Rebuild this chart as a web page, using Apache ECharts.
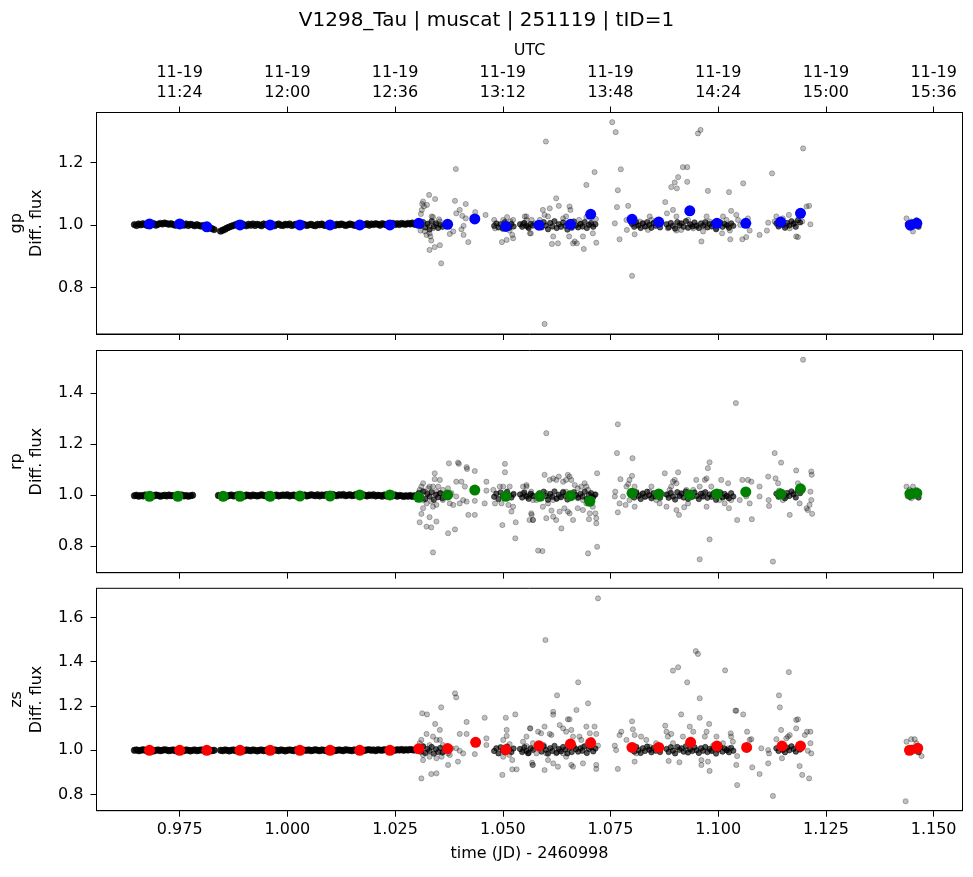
<!DOCTYPE html>
<html><head><meta charset="utf-8">
<script src="https://cdn.jsdelivr.net/npm/echarts@6/dist/echarts.min.js"></script>
<style>html,body{margin:0;padding:0;background:#fff}#chart{width:973px;height:877px}</style>
</head><body><div id="chart"></div>
<script>
const chartTitle = 'V1298_Tau | muscat | 251119 | tID=1';
const xAxisName = 'time (JD) - 2460998';
const topAxisName = 'UTC';
const bandNames = ['gp', 'rp', 'zs'];
const xTickValues = [0.975, 1.000, 1.025, 1.050, 1.075, 1.100, 1.125, 1.150];
const xTickLabels = ['0.975', '1.000', '1.025', '1.050', '1.075', '1.100', '1.125', '1.150'];
const utcTickLabels = ['11-19\n11:24', '11-19\n12:00', '11-19\n12:36', '11-19\n13:12', '11-19\n13:48', '11-19\n14:24', '11-19\n15:00', '11-19\n15:36'];
const gpTickValues = [0.8, 1.0, 1.2];
const rpTickValues = [0.8, 1.0, 1.2, 1.4];
const zsTickValues = [0.8, 1.0, 1.2, 1.4, 1.6];
const gpTickLabels = ['0.8', '1.0', '1.2'];
const rpTickLabels = ['0.8', '1.0', '1.2', '1.4'];
const zsTickLabels = ['0.8', '1.0', '1.2', '1.4', '1.6'];

// binned points
const gpBinTime = [0.9680,0.9750,0.9813,0.9890,0.9960,1.0029,1.0099,1.0168,1.0238,1.0305,1.0372,1.0435,1.0507,1.0584,1.0657,1.0704,1.0800,1.0862,1.0934,1.0997,1.1064,1.1145,1.1191,1.1446,1.1461];
const gpBinFlux = [1.003,1.003,0.994,1.000,1.000,1.000,1.000,1.000,1.000,1.005,1.002,1.019,0.995,0.999,1.002,1.034,1.018,1.009,1.045,1.005,1.005,1.009,1.037,0.999,1.005];
const rpBinTime = [0.9680,0.9746,0.9851,0.9890,0.9960,1.0029,1.0099,1.0168,1.0238,1.0305,1.0372,1.0435,1.0507,1.0586,1.0657,1.0702,1.0800,1.0862,1.0934,1.0997,1.1064,1.1145,1.1191,1.1445,1.1461];
const rpBinFlux = [0.996,0.996,0.996,0.996,0.996,0.997,0.997,1.001,1.001,0.992,1.001,1.020,0.996,0.996,0.998,0.976,1.008,1.005,1.001,1.005,1.013,1.005,1.025,1.005,1.008];
const zsBinTime = [0.9680,0.9750,0.9813,0.9890,0.9960,1.0029,1.0099,1.0168,1.0238,1.0305,1.0372,1.0437,1.0507,1.0584,1.0657,1.0704,1.0800,1.0862,1.0936,1.0997,1.1066,1.1148,1.1191,1.1444,1.1463];
const zsBinFlux = [1.000,1.000,1.000,1.000,1.000,1.000,1.000,1.000,1.000,1.007,1.008,1.036,1.003,1.020,1.028,1.034,1.013,1.013,1.036,1.019,1.013,1.019,1.019,1.000,1.009];

// quiet early part of the night (dense band)
const gpBandTime = [0.9645,0.9650,0.9655,0.9660,0.9665,0.9670,0.9675,0.9680,0.9685,0.9690,0.9695,0.9700,0.9705,0.9710,0.9715,0.9720,0.9725,0.9730,0.9735,0.9740,0.9745,0.9750,0.9755,0.9760,0.9765,0.9770,0.9775,0.9780,0.9785,0.9790,0.9795,0.9800,0.9805,0.9810,0.9815,0.9820,0.9825,0.9830,
0.9845,0.9850,0.9855,0.9860,0.9865,0.9870,0.9875,0.9880,0.9885,0.9890,0.9895,0.9900,0.9905,0.9910,0.9915,0.9920,0.9925,0.9930,0.9935,0.9940,0.9945,0.9950,0.9955,0.9960,0.9965,0.9970,0.9975,0.9980,0.9985,0.9990,0.9995,1.0000,1.0005,1.0010,1.0015,1.0020,1.0025,1.0030,1.0035,1.0040,1.0045,1.0050,1.0055,1.0060,1.0065,1.0070,1.0075,1.0080,1.0085,1.0090,1.0095,1.0100,1.0105,1.0110,1.0115,1.0120,1.0125,1.0130,1.0135,1.0140,1.0145,1.0150,1.0155,1.0160,1.0165,1.0170,1.0175,1.0180,1.0185,1.0190,1.0195,1.0200,1.0205,1.0210,1.0215,1.0220,1.0225,1.0230,1.0235,1.0240,1.0245,1.0250,1.0255,1.0260,1.0265,1.0270,1.0275,1.0280,1.0285,1.0290,1.0295,1.0300];
const gpBandFlux = [1.001,0.998,1.003,1.000,1.004,1.001,0.998,1.003,1.001,1.004,0.999,1.002,1.005,1.003,1.006,1.004,1.002,1.004,1.001,0.999,1.003,1.004,1.001,0.999,1.003,0.998,1.002,1.000,0.997,1.001,0.998,0.996,0.998,0.995,0.993,0.991,0.988,0.985,
0.980,0.983,0.986,0.990,0.993,0.996,0.998,
1.001,1.003,0.998,1.003,1.000,0.997,1.002,0.999,1.003,0.998,1.002,1.000,0.997,1.003,1.001,0.998,1.000,1.002,0.997,1.001,1.003,0.999,0.998,1.002,1.000,1.003,0.998,1.000,1.002,0.997,1.001,1.003,1.001,0.998,1.000,1.002,0.999,0.997,1.002,1.000,1.003,0.999,0.998,1.002,1.003,1.000,0.998,1.002,1.000,1.003,1.001,0.998,1.000,1.003,1.001,0.999,0.998,1.002,1.003,1.000,1.001,1.004,0.999,1.003,1.001,1.004,1.002,0.999,1.004,1.002,1.000,1.004,1.002,1.005,1.001,1.004,1.001,1.005,1.003,1.002,1.005,1.003,1.006,1.002,1.004];
const rpBandTime = [0.9645,0.9650,0.9655,0.9660,0.9665,0.9670,0.9675,0.9680,0.9685,0.9690,0.9695,0.9700,0.9705,0.9710,0.9715,0.9720,0.9725,0.9730,0.9735,0.9740,0.9745,0.9750,0.9755,0.9760,0.9765,0.9770,0.9775,0.9780,
0.9840,0.9845,0.9850,0.9855,0.9860,0.9865,0.9870,0.9875,0.9880,0.9885,0.9890,0.9895,0.9900,0.9905,0.9910,0.9915,0.9920,0.9925,0.9930,0.9935,0.9940,0.9945,0.9950,0.9955,0.9960,0.9965,0.9970,0.9975,0.9980,0.9985,0.9990,0.9995,1.0000,1.0005,1.0010,1.0015,1.0020,1.0025,1.0030,1.0035,1.0040,1.0045,1.0050,1.0055,1.0060,1.0065,1.0070,1.0075,1.0080,1.0085,1.0090,1.0095,1.0100,1.0105,1.0110,1.0115,1.0120,1.0125,1.0130,1.0135,1.0140,1.0145,1.0150,1.0155,1.0160,1.0165,1.0170,1.0175,1.0180,1.0185,1.0190,1.0195,1.0200,1.0205,1.0210,1.0215,1.0220,1.0225,1.0230,1.0235,1.0240,1.0245,1.0250,1.0255,1.0260,1.0265,1.0270,1.0275,1.0280,1.0285,1.0290,1.0295,1.0300];
const rpBandFlux = [0.998,1.000,0.996,0.999,0.997,1.001,0.998,0.996,1.000,0.997,1.001,0.999,0.996,0.998,1.000,0.997,1.001,0.998,0.999,0.996,0.998,1.000,1.001,0.997,0.999,0.996,0.998,1.000,
0.999,0.997,1.001,0.999,0.996,0.999,1.001,0.997,0.999,1.002,0.997,0.999,0.996,1.001,0.999,0.997,1.001,0.999,0.997,0.999,1.002,0.999,0.997,1.001,0.999,0.996,0.999,1.001,0.997,0.999,1.001,0.999,1.002,0.997,0.999,1.001,0.997,0.999,1.002,0.999,1.001,0.997,0.999,1.002,1.000,0.998,1.002,0.997,1.001,0.999,1.002,1.000,0.998,1.003,1.000,0.998,1.002,1.000,1.003,0.998,1.000,1.002,0.998,1.000,1.003,1.000,0.998,1.002,1.000,0.997,1.001,0.999,1.002,0.997,1.000,0.999,0.996,1.001,0.997,0.999,0.996,0.998,1.001,0.996,0.999,0.998,0.995,0.998,0.996,0.999,0.995,0.998,0.996];
const zsBandTime = [0.9645,0.9650,0.9655,0.9660,0.9665,0.9670,0.9675,0.9680,0.9685,0.9690,0.9695,0.9700,0.9705,0.9710,0.9715,0.9720,0.9725,0.9730,0.9735,0.9740,0.9745,0.9750,0.9755,0.9760,0.9765,0.9770,0.9775,0.9780,0.9785,0.9790,0.9795,0.9800,0.9805,0.9810,0.9815,0.9820,0.9825,0.9830,
0.9845,0.9850,0.9855,0.9860,0.9865,0.9870,0.9875,0.9880,0.9885,0.9890,0.9895,0.9900,0.9905,0.9910,0.9915,0.9920,0.9925,0.9930,0.9935,0.9940,0.9945,0.9950,0.9955,0.9960,0.9965,0.9970,0.9975,0.9980,0.9985,0.9990,0.9995,1.0000,1.0005,1.0010,1.0015,1.0020,1.0025,1.0030,1.0035,1.0040,1.0045,1.0050,1.0055,1.0060,1.0065,1.0070,1.0075,1.0080,1.0085,1.0090,1.0095,1.0100,1.0105,1.0110,1.0115,1.0120,1.0125,1.0130,1.0135,1.0140,1.0145,1.0150,1.0155,1.0160,1.0165,1.0170,1.0175,1.0180,1.0185,1.0190,1.0195,1.0200,1.0205,1.0210,1.0215,1.0220,1.0225,1.0230,1.0235,1.0240,1.0245,1.0250,1.0255,1.0260,1.0265,1.0270,1.0275,1.0280,1.0285,1.0290,1.0295,1.0300];
const zsBandFlux = [1.000,1.002,0.998,1.000,1.003,1.000,0.998,1.002,1.000,0.997,1.000,1.002,0.998,1.000,1.003,1.001,0.998,1.000,1.002,0.998,1.000,1.003,1.000,0.998,1.002,1.000,0.997,1.000,1.002,0.998,1.000,1.002,1.000,0.998,1.002,1.000,0.998,1.000,
1.000,0.998,1.002,1.000,0.997,1.000,1.002,0.998,1.000,1.003,1.000,0.998,1.002,1.000,0.998,1.002,1.000,0.997,1.000,1.002,0.998,1.000,1.003,1.000,0.998,1.002,1.000,0.998,1.002,1.000,0.997,1.000,1.002,1.000,0.998,1.003,1.000,0.998,1.002,1.000,1.000,1.002,0.998,1.000,1.003,1.000,0.998,1.002,1.000,0.998,1.002,1.000,1.003,0.998,1.000,1.002,1.000,0.998,1.003,1.001,1.000,0.998,1.002,1.000,1.003,1.001,0.998,1.000,1.002,1.003,1.000,1.002,0.998,1.003,1.001,1.000,1.003,1.001,1.000,1.004,1.001,1.000,1.003,1.001,1.004,1.000,1.003,1.001,1.004,1.002,1.001,1.004];

// dense cores of the later, noisier part (simultaneous exposures in all bands)
const coreTime = [1.0305,1.0310,1.0315,1.0320,1.0325,1.0330,1.0335,1.0340,1.0345,1.0350,1.0355,1.0360,
1.0480,1.0485,1.0490,1.0495,1.0500,1.0505,1.0510,1.0515,1.0520,1.0525,
1.0540,1.0545,1.0550,1.0555,1.0560,1.0565,1.0570,
1.0585,1.0590,1.0595,1.0600,1.0605,1.0610,1.0615,1.0620,1.0625,1.0630,1.0635,1.0640,1.0645,1.0650,1.0655,1.0660,1.0665,1.0670,1.0675,1.0680,1.0685,1.0690,1.0695,1.0700,1.0705,1.0710,1.0715,
1.0800,1.0805,1.0810,1.0815,1.0820,1.0825,1.0830,1.0835,1.0840,1.0845,1.0850,1.0855,1.0860,1.0865,
1.0880,1.0885,1.0890,1.0895,1.0900,1.0905,1.0910,1.0915,1.0920,1.0925,1.0930,1.0935,1.0940,1.0945,1.0950,1.0955,1.0960,1.0965,1.0970,1.0975,1.0980,1.0985,1.0990,1.0995,1.1000,1.1005,1.1010,1.1015,1.1020,1.1025,1.1030,1.1035,
1.1135,1.1140,1.1145,1.1150,1.1155,1.1160,1.1165,1.1170,1.1175,1.1180,1.1185,1.1190,
1.1440,1.1445,1.1450,1.1455,1.1460,1.1465];
const gpCoreFlux = [1.006,0.997,1.009,0.992,1.003,0.985,1.012,0.995,1.005,0.990,1.000,0.994,
0.997,1.005,0.992,1.002,0.988,1.009,0.998,0.991,1.003,0.995,
1.002,0.994,1.006,0.997,0.990,1.003,0.998,
1.005,0.992,1.009,0.998,0.986,1.006,0.995,1.012,0.990,1.002,0.994,1.008,0.997,0.985,1.005,0.991,1.011,0.998,0.992,1.003,0.995,1.009,0.990,1.000,1.006,0.994,1.002,
1.003,0.994,1.008,0.998,0.990,1.005,0.995,1.009,1.000,0.991,1.006,0.997,1.003,0.992,
1.002,0.992,1.006,0.997,0.988,1.009,0.998,1.005,0.994,1.012,0.991,1.002,0.995,1.008,0.998,0.990,1.005,0.997,1.009,0.992,1.003,0.995,1.006,0.986,1.000,1.008,0.994,1.003,0.998,0.991,1.005,0.997,
1.005,0.995,1.009,1.000,0.991,1.006,0.998,1.012,1.003,0.994,1.015,1.008,
1.003,0.995,1.008,0.998,1.005,0.994];
const rpCoreFlux = [1.009,0.991,1.015,0.985,1.005,0.995,1.012,0.982,1.002,0.992,1.008,0.988,
0.994,1.006,0.985,1.011,0.997,0.990,1.014,1.000,0.991,1.005,
1.003,0.991,1.011,0.995,0.986,1.006,0.998,
1.008,0.990,1.014,0.997,0.982,1.005,0.994,1.015,0.986,1.002,0.992,1.011,0.998,0.983,1.006,0.990,1.012,1.000,0.991,1.005,0.995,1.014,0.985,1.002,1.008,0.992,1.003,
1.005,0.991,1.012,0.997,0.985,1.006,0.994,1.014,1.000,0.988,1.008,0.995,1.003,0.990,
1.003,0.990,1.009,0.995,0.983,1.012,0.998,1.006,0.991,1.015,0.986,1.002,0.994,1.011,0.997,0.985,1.006,0.995,1.012,0.990,1.003,0.994,1.009,0.982,1.000,1.011,0.991,1.005,0.997,0.988,1.008,0.995,
1.006,0.994,1.014,1.000,0.988,1.009,0.997,1.015,1.003,0.991,1.018,1.008,
1.009,0.994,1.015,1.000,1.006,0.991];
const zsCoreFlux = [1.012,0.994,1.018,0.988,1.006,0.997,1.015,0.985,1.005,0.992,1.011,0.990,
0.997,1.009,0.986,1.014,1.000,0.991,1.017,1.003,0.992,1.008,
1.006,0.992,1.014,0.997,0.988,1.009,1.002,
1.012,0.994,1.018,1.002,0.985,1.009,0.997,1.020,0.990,1.006,0.995,1.015,1.003,0.986,1.011,0.992,1.017,1.005,0.994,1.009,0.998,1.018,0.988,1.006,1.014,0.995,1.008,
1.008,0.994,1.015,1.000,0.988,1.009,0.997,1.017,1.003,0.991,1.011,0.998,1.006,0.992,
1.006,0.992,1.014,0.998,0.986,1.015,1.002,1.009,0.994,1.018,0.990,1.005,0.997,1.014,1.000,0.988,1.009,0.998,1.015,0.992,1.006,0.997,1.012,0.985,1.003,1.014,0.994,1.008,1.000,0.991,1.011,0.998,
1.009,0.997,1.017,1.003,0.991,1.012,1.000,1.018,1.006,0.994,1.015,1.005,
1.006,0.994,1.012,0.998,1.005,0.991];

// scattered individual exposures [time, flux]
const gpScatter = [[1.0315,1.075],[1.0313,1.067],[1.0317,1.059],[1.0312,1.048],[1.0310,1.035],[1.0329,1.096],[1.0343,1.083],[1.0324,1.064],[1.0338,1.025],[1.0335,1.027],[1.0352,1.018],[1.0354,1.011],[1.0346,1.000],[1.0328,1.005],[1.0330,0.995],[1.0309,0.982],[1.0319,0.979],[1.0323,0.968],[1.0330,0.973],[1.0332,0.963],[1.0334,0.950],[1.0338,0.989],[1.0342,0.929],[1.0354,0.935],[1.0330,0.920],[1.0357,0.877],[1.0391,1.179],[1.0389,1.077],[1.0400,1.048],[1.0414,1.067],[1.0406,1.029],[1.0392,1.037],[1.0409,0.997],[1.0404,0.986],[1.0385,0.979],[1.0377,0.971],[1.0409,0.968],[1.0420,0.945],[1.0436,1.041],[1.0460,1.032],[1.0414,1.021],[1.0480,1.016],[1.0482,0.989],[1.0501,1.016],[1.0510,1.025],[1.0518,1.011],[1.0524,1.016],[1.0516,0.982],[1.0524,0.957],[1.0509,0.952],[1.0498,0.945],[1.0522,0.968],[1.0555,1.027],[1.0547,1.005],[1.0559,0.995],[1.0563,0.973],[1.0567,1.016],[1.0583,0.998],
[1.0551,1.027],[1.0555,1.016],[1.0547,1.000],[1.0558,0.993],[1.0565,0.973],[1.0574,1.005],[1.0586,1.016],[1.0593,1.048],[1.0597,1.032],[1.0605,1.027],[1.0609,1.053],[1.0600,1.267],[1.0597,0.683],[1.0617,0.963],[1.0614,0.939],[1.0628,0.941],[1.0624,1.085],[1.0630,1.061],[1.0640,1.021],[1.0647,1.027],[1.0655,1.059],[1.0657,1.048],[1.0654,0.963],[1.0663,0.941],[1.0667,0.947],[1.0672,0.941],[1.0677,1.016],[1.0686,0.963],[1.0688,0.923],[1.0682,1.003],[1.0694,1.025],[1.0694,1.128],[1.0706,1.000],[1.0709,0.973],[1.0713,1.169],[1.0716,1.019],[1.0717,0.943],
[1.0754,1.329],[1.0762,1.297],[1.0774,1.178],[1.0767,1.111],[1.0765,1.057],[1.0760,1.005],[1.0771,0.954],[1.0791,1.061],[1.0787,1.016],[1.0788,0.984],[1.0806,0.970],[1.0800,0.837],[1.0810,1.000],[1.0818,1.011],[1.0825,1.005],[1.0833,0.995],[1.0841,1.027],[1.0845,1.016],[1.0849,1.005],[1.0837,0.984],[1.0856,1.011],[1.0864,1.003],[1.0877,1.073],[1.0881,1.037],[1.0891,1.121],[1.0899,1.136],[1.0904,1.117],[1.0907,1.153],[1.0895,1.048],[1.0903,1.027],[1.0911,1.005],[1.0883,0.989],[1.0903,0.982],[1.0914,0.984],[1.0918,1.185],[1.0928,1.185],[1.0928,1.138],[1.0930,1.016],[1.0938,1.000],[1.0942,0.989],[1.0949,0.995],[1.0953,1.293],[1.0959,1.304],[1.0961,0.947],[1.0976,1.109],[1.0973,1.027],[1.0980,1.011],[1.0969,1.000],[1.0965,0.979],[1.0988,1.000],[1.0996,0.989],[1.1003,1.005],[1.1009,0.973],[1.1011,1.027],[1.1019,1.016],[1.1023,1.000],[1.1025,1.105],[1.1027,0.982],[1.1028,0.954],[1.1030,1.045],[1.1042,1.032],[1.1046,1.016],[1.1051,1.000],[1.1058,1.133],[1.1056,0.954],[1.1065,0.961],[1.1073,0.982],[1.1069,1.021],[1.1096,0.968],[1.1113,0.982],[1.1116,1.007],[1.1125,1.165],[1.1135,1.027],[1.1131,1.011],[1.1139,1.000],[1.1143,1.016],[1.1150,1.021],[1.1158,0.997],[1.1164,1.032],[1.1166,0.989],[1.1174,1.005],[1.1178,1.007],[1.1181,0.963],[1.1185,0.961],[1.1195,1.011],[1.1197,1.245],[1.1205,1.059],[1.1211,1.061],[1.1214,1.002],[1.1437,1.021],[1.1452,0.979],[1.1448,1.011],[1.1460,1.016]];

const rpScatter = [[1.0315,1.047],[1.0311,1.034],[1.0307,1.021],[1.0319,1.014],[1.0327,1.027],[1.0330,1.034],[1.0338,1.034],[1.0350,1.034],[1.0346,1.014],[1.0354,1.008],[1.0361,1.021],[1.0342,1.086],[1.0342,1.063],[1.0354,1.060],[1.0375,1.125],[1.0396,1.128],[1.0398,1.123],[1.0416,1.110],[1.0417,1.103],[1.0435,1.095],[1.0392,1.053],[1.0404,1.053],[1.0412,1.034],[1.0462,1.053],[1.0462,1.018],[1.0373,1.027],[1.0381,1.008],[1.0392,0.995],[1.0408,0.981],[1.0315,0.981],[1.0323,0.968],[1.0334,0.975],[1.0338,0.955],[1.0346,0.962],[1.0361,0.981],[1.0377,0.968],[1.0385,0.962],[1.0400,0.968],[1.0315,0.949],[1.0311,0.927],[1.0307,0.894],[1.0330,0.914],[1.0346,0.897],[1.0323,0.877],[1.0334,0.874],[1.0373,0.851],[1.0389,0.866],[1.0338,0.776],[1.0420,0.923],[1.0435,0.923],[1.0416,0.975],[1.0458,0.968],[1.0435,0.978],[1.0478,1.021],[1.0493,1.034],[1.0505,1.123],[1.0505,1.090],[1.0501,1.034],[1.0516,1.034],[1.0509,1.008],[1.0524,1.001],[1.0482,0.968],[1.0497,0.968],[1.0513,0.962],[1.0524,0.955],[1.0520,0.936],[1.0499,0.883],[1.0530,0.894],[1.0529,0.831],[1.0547,1.008],[1.0555,1.034],[1.0563,1.001],[1.0570,0.995],[1.0578,0.981],[1.0567,0.923],[1.0570,0.903],[1.0582,0.783],[1.0586,0.995],
[1.0547,1.034],[1.0555,1.040],[1.0551,1.001],[1.0558,0.995],[1.0566,1.014],[1.0570,0.981],[1.0566,0.929],[1.0570,0.903],[1.0562,0.903],[1.0597,1.080],[1.0601,1.243],[1.0609,1.060],[1.0617,1.066],[1.0624,1.060],[1.0630,1.073],[1.0640,1.053],[1.0647,1.060],[1.0651,1.080],[1.0655,1.073],[1.0659,1.060],[1.0667,1.040],[1.0674,1.027],[1.0682,1.034],[1.0690,1.047],[1.0694,1.034],[1.0698,1.021],[1.0601,1.008],[1.0609,0.995],[1.0617,0.981],[1.0624,0.988],[1.0632,0.995],[1.0640,1.014],[1.0647,1.014],[1.0663,0.995],[1.0674,0.988],[1.0686,0.981],[1.0698,0.975],[1.0706,0.995],[1.0713,1.001],[1.0593,0.955],[1.0605,0.968],[1.0613,0.940],[1.0617,0.916],[1.0624,0.903],[1.0601,0.910],[1.0632,0.936],[1.0643,0.949],[1.0651,0.936],[1.0655,0.929],[1.0663,0.903],[1.0674,0.949],[1.0686,0.942],[1.0694,0.968],[1.0702,0.929],[1.0709,0.955],[1.0715,0.929],[1.0717,0.910],[1.0717,0.890],[1.0700,0.906],[1.0636,0.870],[1.0592,0.781],[1.0698,0.772],[1.0719,0.798],[1.0719,1.086],
[1.0767,1.278],[1.0765,1.165],[1.0773,1.063],[1.0767,0.933],[1.0761,1.014],[1.0760,0.995],[1.0771,0.968],[1.0779,0.995],[1.0787,1.034],[1.0791,1.044],[1.0794,1.060],[1.0800,1.076],[1.0801,1.145],[1.0806,1.034],[1.0806,0.955],[1.0794,0.981],[1.0785,0.962],[1.0810,1.008],[1.0818,1.001],[1.0825,1.008],[1.0833,0.995],[1.0841,1.014],[1.0845,1.034],[1.0849,0.995],[1.0856,0.981],[1.0864,0.968],[1.0876,1.086],[1.0880,0.955],[1.0883,1.001],[1.0887,1.021],[1.0891,1.034],[1.0895,1.053],[1.0899,1.060],[1.0903,1.047],[1.0907,1.090],[1.0911,0.995],[1.0914,1.008],[1.0903,0.942],[1.0909,0.923],[1.0921,0.953],[1.0926,1.021],[1.0930,0.968],[1.0938,1.008],[1.0942,1.021],[1.0949,1.060],[1.0957,1.034],[1.0961,0.995],[1.0965,1.008],[1.0969,1.060],[1.0973,1.066],[1.0976,1.106],[1.0980,1.129],[1.0980,0.827],[1.0957,0.749],[1.0973,0.955],[1.0984,1.034],[1.0988,1.001],[1.0996,0.995],[1.1003,0.981],[1.1007,1.060],[1.1011,0.995],[1.1015,0.968],[1.1019,0.995],[1.1023,1.047],[1.1025,0.949],[1.1030,0.981],[1.1041,1.361],[1.1044,0.903],[1.1050,0.981],[1.1056,1.060],[1.1065,0.995],[1.1069,1.060],[1.1073,0.968],[1.1078,0.906],[1.1077,1.053],[1.1096,1.034],[1.1096,0.995],[1.1116,1.073],[1.1117,0.981],[1.1118,0.958],[1.1127,0.740],[1.1131,1.165],[1.1133,1.066],[1.1139,1.047],[1.1141,1.018],[1.1146,1.128],[1.1150,0.981],[1.1154,1.001],[1.1158,0.995],[1.1166,0.923],[1.1174,1.008],[1.1181,1.097],[1.1185,1.047],[1.1189,0.968],[1.1197,1.531],[1.1205,0.949],[1.1208,0.942],[1.1212,0.962],[1.1216,0.981],[1.1214,1.014],[1.1216,1.093],[1.1217,1.080],[1.1218,0.927],
[1.1437,1.034],[1.1440,0.995],[1.1444,1.021],[1.1452,1.034],[1.1456,0.995],[1.1460,1.021],[1.1464,1.001],[1.1448,0.988]];

const zsScatter = [[1.0313,1.167],[1.0324,1.162],[1.0357,1.194],[1.0343,1.119],[1.0354,1.092],[1.0389,1.257],[1.0392,1.239],[1.0416,1.128],[1.0458,1.147],[1.0400,1.074],[1.0416,1.074],[1.0462,1.054],[1.0462,1.024],[1.0435,0.983],[1.0361,0.994],[1.0377,0.979],[1.0338,1.062],[1.0323,1.074],[1.0311,1.047],[1.0307,1.032],[1.0315,1.016],[1.0330,1.024],[1.0346,1.047],[1.0354,1.047],[1.0361,1.024],[1.0373,0.986],[1.0381,1.009],[1.0392,1.009],[1.0400,0.998],[1.0408,0.986],[1.0315,0.979],[1.0315,0.956],[1.0330,0.971],[1.0346,0.964],[1.0358,0.971],[1.0373,0.934],[1.0396,0.949],[1.0311,0.873],[1.0334,0.893],[1.0346,0.896],[1.0507,1.147],[1.0509,1.092],[1.0509,1.065],[1.0501,1.047],[1.0516,1.028],[1.0529,1.162],[1.0501,0.971],[1.0515,0.979],[1.0522,0.956],[1.0499,0.889],[1.0522,0.914],[1.0532,0.914],[1.0563,1.099],[1.0582,1.084],[1.0570,1.032],[1.0559,0.986],[1.0569,0.934],[1.0547,1.039],[1.0578,0.986],[1.0555,1.019],
[1.0564,1.099],[1.0555,1.062],[1.0547,1.001],[1.0558,0.986],[1.0570,0.934],[1.0568,0.944],[1.0589,1.077],[1.0597,1.107],[1.0609,1.074],[1.0613,1.069],[1.0617,1.174],[1.0617,1.161],[1.0626,1.248],[1.0599,1.498],[1.0595,1.024],[1.0601,0.986],[1.0605,0.956],[1.0617,0.941],[1.0628,0.926],[1.0597,0.911],[1.0632,1.114],[1.0640,1.099],[1.0647,1.084],[1.0651,1.140],[1.0655,1.140],[1.0659,1.092],[1.0663,1.062],[1.0671,1.182],[1.0675,1.307],[1.0678,1.062],[1.0682,1.047],[1.0686,1.016],[1.0694,1.107],[1.0698,1.212],[1.0702,1.077],[1.0706,1.047],[1.0713,1.107],[1.0717,1.074],[1.0721,1.021],[1.0717,0.934],[1.0717,0.916],[1.0686,0.941],[1.0663,0.926],[1.0659,0.934],[1.0647,0.971],[1.0640,0.986],[1.0632,1.001],[1.0624,0.986],[1.0721,1.686],
[1.0760,1.021],[1.0763,1.001],[1.0767,0.916],[1.0771,1.069],[1.0775,1.084],[1.0787,1.047],[1.0794,1.016],[1.0800,1.131],[1.0802,1.095],[1.0806,1.069],[1.0810,0.986],[1.0806,0.949],[1.0821,1.062],[1.0833,1.047],[1.0841,1.016],[1.0845,1.001],[1.0856,1.032],[1.0864,1.001],[1.0877,1.111],[1.0880,1.084],[1.0883,1.062],[1.0885,0.952],[1.0891,1.074],[1.0895,1.032],[1.0895,1.360],[1.0907,1.375],[1.0910,0.946],[1.0914,1.162],[1.0918,1.062],[1.0926,1.001],[1.0928,1.307],[1.0934,1.107],[1.0942,1.084],[1.0948,1.448],[1.0953,1.435],[1.0957,1.235],[1.0957,1.147],[1.0961,0.956],[1.0961,0.934],[1.0969,1.062],[1.0973,1.084],[1.0979,1.119],[1.0976,0.949],[1.0980,0.907],[1.0984,1.001],[1.0988,1.021],[1.0996,1.062],[1.1003,1.024],[1.1011,1.032],[1.1016,1.361],[1.1019,1.001],[1.1023,1.009],[1.1029,1.077],[1.1030,1.062],[1.1034,1.039],[1.1040,1.179],[1.1042,1.179],[1.1042,0.934],[1.1044,0.843],[1.1044,0.974],[1.1058,1.162],[1.1067,1.084],[1.1073,1.047],[1.1077,1.050],[1.1079,0.923],[1.1096,0.893],[1.1100,1.009],[1.1116,1.001],[1.1116,0.941],[1.1118,0.986],[1.1127,0.794],[1.1135,1.050],[1.1141,1.248],[1.1143,1.194],[1.1146,1.092],[1.1150,1.001],[1.1148,0.964],[1.1158,1.054],[1.1162,1.062],[1.1164,1.353],[1.1166,1.069],[1.1181,1.137],[1.1181,1.099],[1.1185,1.140],[1.1189,1.001],[1.1189,0.929],[1.1195,0.889],[1.1201,1.069],[1.1206,1.084],[1.1208,0.998],[1.1211,0.873],[1.1214,1.084],[1.1214,1.032],[1.1216,0.986],
[1.1435,0.770],[1.1437,1.039],[1.1448,1.050],[1.1456,1.050],[1.1460,1.032],[1.1468,1.016],[1.1472,0.974]];

// ---------- chart construction ----------
const X_MIN = 0.9557, X_MAX = 1.1567;
const yRanges = [[0.6507, 1.3599], [0.6964, 1.5671], [0.7273, 1.7314]];
const gridTops = [112.5, 350.5, 588.3];
const gridHeights = [221.5, 222.2, 222.4];
const binColors = ['#0000ff', '#008000', '#ff0000'];
const FONT = 'DejaVu Sans';

function lookup(values, labels, v) {
  for (let i = 0; i < values.length; i++) if (Math.abs(values[i] - v) < 1e-6) return labels[i];
  return '';
}
function zip(ts, vs) { return ts.map((t, i) => [t, vs[i]]); }

const panels = [
  {band: zip(gpBandTime, gpBandFlux), core: zip(coreTime, gpCoreFlux), scatter: gpScatter, bin: zip(gpBinTime, gpBinFlux), ticks: gpTickValues, tickLabels: gpTickLabels},
  {band: zip(rpBandTime, rpBandFlux), core: zip(coreTime, rpCoreFlux), scatter: rpScatter, bin: zip(rpBinTime, rpBinFlux), ticks: rpTickValues, tickLabels: rpTickLabels},
  {band: zip(zsBandTime, zsBandFlux), core: zip(coreTime, zsCoreFlux), scatter: zsScatter, bin: zip(zsBinTime, zsBinFlux), ticks: zsTickValues, tickLabels: zsTickLabels}
];

const blackLine = {color: '#000', width: 1};
const grids = [], xAxes = [], yAxes = [], series = [];

panels.forEach((p, i) => {
  grids.push({left: 96.5, width: 866, top: gridTops[i], height: gridHeights[i], show: true,
    borderColor: '#000', borderWidth: 1, backgroundColor: 'transparent', containLabel: false, outerBoundsMode: 'none'});
  const last = i === panels.length - 1;
  xAxes.push({
    type: 'value', gridIndex: i, position: 'bottom', min: X_MIN, max: X_MAX,
    axisLine: {show: true, onZero: false, lineStyle: blackLine},
    axisTick: {show: true, inside: false, length: 6, customValues: xTickValues, lineStyle: blackLine},
    axisLabel: {show: last, customValues: xTickValues, formatter: v => lookup(xTickValues, xTickLabels, v),
      fontSize: 16, color: '#000', fontFamily: FONT, margin: 11},
    splitLine: {show: false},
    name: last ? xAxisName : '', nameLocation: 'middle', nameGap: 35,
    nameTextStyle: {fontSize: 16, color: '#000', fontFamily: FONT}
  });
  yAxes.push({
    type: 'value', gridIndex: i, position: 'left', min: yRanges[i][0], max: yRanges[i][1],
    axisLine: {show: true, onZero: false, lineStyle: blackLine},
    axisTick: {show: true, inside: false, length: 6, customValues: p.ticks, lineStyle: blackLine},
    axisLabel: {customValues: p.ticks, formatter: v => lookup(p.ticks, p.tickLabels, v),
      fontSize: 16, color: '#000', fontFamily: FONT, margin: 13},
    splitLine: {show: false},
    name: bandNames[i] + '\nDiff. flux', nameLocation: 'middle', nameRotate: 90, nameGap: 46,
    nameTextStyle: {fontSize: 16, color: '#000', fontFamily: FONT, lineHeight: 20}
  });
  series.push({type: 'scatter', xAxisIndex: i, yAxisIndex: i, data: p.band, symbol: 'circle', symbolSize: 6.4,
    itemStyle: {color: 'rgba(0,0,0,0.85)', borderColor: 'rgba(0,0,0,0.7)', borderWidth: 0.8, opacity: 1}, z: 2, silent: true});
  series.push({type: 'scatter', xAxisIndex: i, yAxisIndex: i, data: p.core, symbol: 'circle', symbolSize: 5.4,
    itemStyle: {color: 'rgba(0,0,0,0.65)', borderColor: 'rgba(0,0,0,0.65)', borderWidth: 0.8, opacity: 1}, z: 2, silent: true});
  series.push({type: 'scatter', xAxisIndex: i, yAxisIndex: i, data: p.scatter, symbol: 'circle', symbolSize: 5.2,
    itemStyle: {color: 'rgba(0,0,0,0.25)', borderColor: 'rgba(0,0,0,0.32)', borderWidth: 0.8, opacity: 1}, z: 3, silent: true});
  series.push({type: 'scatter', xAxisIndex: i, yAxisIndex: i, data: p.bin, symbol: 'circle', symbolSize: 11,
    itemStyle: {color: binColors[i], borderWidth: 0, opacity: 1}, z: 5, silent: true});
});

// secondary UTC axis on top of first panel
xAxes.push({
  type: 'value', gridIndex: 0, position: 'top', min: X_MIN, max: X_MAX,
  axisLine: {show: true, onZero: false, lineStyle: blackLine},
  axisTick: {show: true, inside: false, length: 6, customValues: xTickValues, lineStyle: blackLine},
  axisLabel: {customValues: xTickValues, formatter: v => lookup(xTickValues, utcTickLabels, v),
    fontSize: 16, color: '#000', fontFamily: FONT, margin: 10, lineHeight: 20},
  splitLine: {show: false},
  name: topAxisName, nameLocation: 'middle', nameGap: 54,
  nameTextStyle: {fontSize: 16, color: '#000', fontFamily: FONT}
});

const chart = echarts.init(document.getElementById('chart'), null, {renderer: 'canvas'});
chart.setOption({
  animation: false,
  backgroundColor: '#fff',
  title: {text: chartTitle, left: 'center', top: 11, padding: 0,
    textStyle: {fontSize: 20, fontWeight: 'normal', color: '#000', fontFamily: FONT}},
  grid: grids, xAxis: xAxes, yAxis: yAxes, series: series
});
</script>
</body></html>
